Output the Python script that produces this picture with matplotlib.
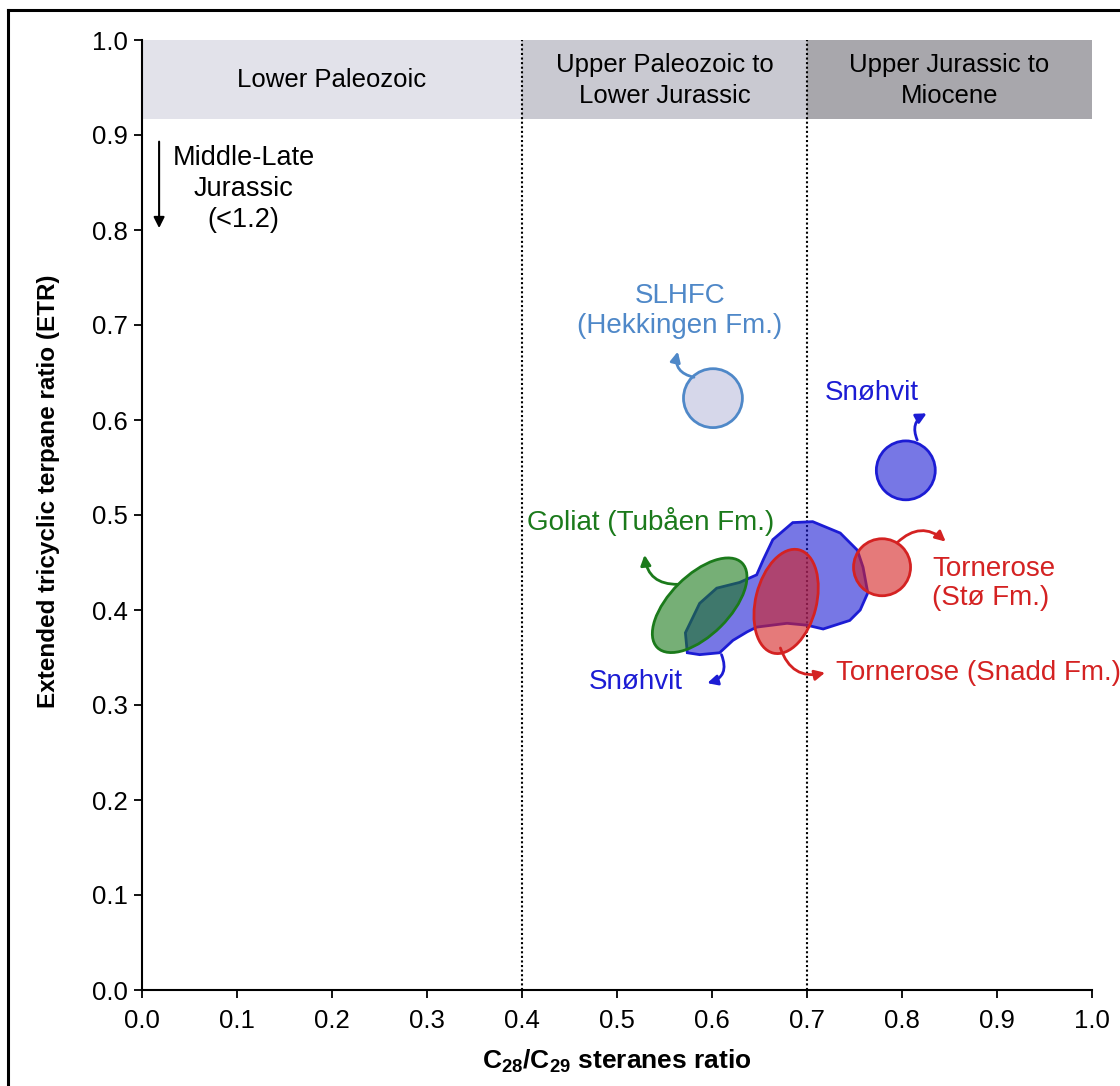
import matplotlib
matplotlib.use("Agg")
import matplotlib.pyplot as plt
from matplotlib.patches import Ellipse, Circle, Polygon, FancyArrowPatch, Rectangle
from matplotlib.lines import Line2D

plt.rcParams['font.family'] = ['Liberation Sans', 'DejaVu Sans']
plt.rcParams['mathtext.fontset'] = 'custom'
plt.rcParams['mathtext.rm'] = 'Liberation Sans'
plt.rcParams['mathtext.bf'] = 'Liberation Sans:bold'

# age bands (x ranges) along the top
band_names = ['Lower Paleozoic', 'Upper Paleozoic to\nLower Jurassic', 'Upper Jurassic to\nMiocene']
band_x = [(0.0, 0.4), (0.4, 0.7), (0.7, 1.0)]
band_colors = ['#e2e2ea', '#c9c9d1', '#a8a7ac']
band_bottom = 0.917
cutoffs = [0.4, 0.7]

# circles: name, centre x, centre y, radius
circle_names = ['SLHFC', 'Snøhvit', 'Tornerose (Stø)']
circle_x = [0.601, 0.804, 0.779]
circle_y = [0.623, 0.547, 0.445]
circle_r = [0.031, 0.031, 0.030]

# ellipses: Goliat (Tubåen Fm.), Tornerose (Snadd Fm.)
ell_x = [0.587, 0.678]
ell_y = [0.405, 0.409]
ell_w = [0.126, 0.112]
ell_h = [0.063, 0.064]
ell_ang = [45, 76]

# Snøhvit field outline
snohvit_x = [0.574, 0.572, 0.587, 0.605, 0.629, 0.647, 0.654, 0.664, 0.685, 0.706,
             0.735, 0.753, 0.759, 0.764, 0.756, 0.745, 0.717, 0.700, 0.679, 0.647,
             0.637, 0.622, 0.608, 0.587]
snohvit_y = [0.355, 0.376, 0.407, 0.423, 0.429, 0.437, 0.453, 0.474, 0.492, 0.493,
             0.481, 0.463, 0.445, 0.418, 0.400, 0.389, 0.380, 0.384, 0.386, 0.382,
             0.377, 0.368, 0.355, 0.353]

BLUE = '#1c1cd4'
RED = '#d42222'
GREEN = '#1b7a1b'
STEEL = '#4f88c8'

fig = plt.figure(figsize=(11.2, 10.86), dpi=100)
ax = fig.add_axes([142/1120, 96/1086, 950/1120, 950/1086])
ax.set_xlim(0, 1.0)
ax.set_ylim(0, 1.0)

# bands
for (x0, x1), c, name in zip(band_x, band_colors, band_names):
    ax.add_patch(Rectangle((x0, band_bottom), x1 - x0, 1.0 - band_bottom,
                           facecolor=c, edgecolor='none', zorder=1))
    ax.text((x0 + x1) / 2, (band_bottom + 1.0) / 2 - 0.001, name, ha='center', va='center',
            fontsize=18.5, linespacing=1.35, zorder=3)

for xc in cutoffs:
    ax.plot([xc, xc], [0, 1.0], color='black', ls=(0, (1, 1.2)), lw=1.5, zorder=2)

# Snøhvit field
ax.add_patch(Polygon(list(zip(snohvit_x, snohvit_y)), closed=True,
                     facecolor=BLUE, alpha=0.6, edgecolor='none', zorder=4))
ax.add_patch(Polygon(list(zip(snohvit_x, snohvit_y)), closed=True,
                     facecolor='none', edgecolor=BLUE, lw=2, zorder=4))

# ellipses
for i, col in enumerate([GREEN, RED]):
    ax.add_patch(Ellipse((ell_x[i], ell_y[i]), ell_w[i], ell_h[i], angle=ell_ang[i],
                         facecolor=col, alpha=0.6, edgecolor='none', zorder=5))
    ax.add_patch(Ellipse((ell_x[i], ell_y[i]), ell_w[i], ell_h[i], angle=ell_ang[i],
                         facecolor='none', edgecolor=col, lw=2, zorder=5))

# circles
ax.add_patch(Circle((circle_x[0], circle_y[0]), circle_r[0], facecolor='#d6d7ea',
                    edgecolor=STEEL, lw=2, zorder=5))
for i, col in [(1, BLUE), (2, RED)]:
    ax.add_patch(Circle((circle_x[i], circle_y[i]), circle_r[i], facecolor=col,
                        alpha=0.6, edgecolor='none', zorder=5))
    ax.add_patch(Circle((circle_x[i], circle_y[i]), circle_r[i], facecolor='none',
                        edgecolor=col, lw=2, zorder=5))

# curved arrows: start, end, rad, colour
arrows = [((0.581, 0.645), (0.564, 0.672), -0.5, STEEL),
          ((0.816, 0.579), (0.826, 0.607), -0.45, BLUE),
          ((0.795, 0.471), (0.846, 0.472), -0.45, RED),
          ((0.672, 0.360), (0.719, 0.334), 0.45, RED),
          ((0.610, 0.353), (0.595, 0.323), -0.55, BLUE),
          ((0.564, 0.427), (0.529, 0.458), -0.45, GREEN)]
for s, e, rad, col in arrows:
    ax.add_patch(FancyArrowPatch(s, e, connectionstyle=f'arc3,rad={rad}',
                                 arrowstyle='-|>', mutation_scale=15, lw=2,
                                 color=col, zorder=6, shrinkA=0, shrinkB=0))

# labels
fs = 20
ax.text(0.566, 0.715, 'SLHFC\n(Hekkingen Fm.)', color=STEEL, ha='center', va='center',
        fontsize=fs, linespacing=1.2)
ax.text(0.768, 0.628, 'Snøhvit', color=BLUE, ha='center', va='center', fontsize=fs)
ax.text(0.535, 0.493, 'Goliat (Tubåen Fm.)', color=GREEN, ha='center', va='center', fontsize=fs)
ax.text(0.832, 0.428, 'Tornerose\n(Stø Fm.)', color=RED, ha='left', va='center',
        fontsize=fs, linespacing=1.15)
ax.text(0.731, 0.334, 'Tornerose (Snadd Fm.)', color=RED, ha='left', va='center', fontsize=fs)
ax.text(0.520, 0.324, 'Snøhvit', color=BLUE, ha='center', va='center', fontsize=fs)

ax.annotate('', xy=(0.018, 0.802), xytext=(0.018, 0.893),
            arrowprops=dict(arrowstyle='-|>', color='black', lw=1.5, mutation_scale=16,
                            shrinkA=0, shrinkB=0))
ax.text(0.107, 0.843, 'Middle-Late\nJurassic\n(<1.2)', ha='center', va='center',
        fontsize=19.5, linespacing=1.25)

# axes styling
ticks = [i / 10 for i in range(11)]
ax.set_xticks(ticks)
ax.set_yticks(ticks)
ax.set_xticklabels([f'{t:.1f}' for t in ticks])
ax.set_yticklabels([f'{t:.1f}' for t in ticks])
ax.tick_params(direction='out', length=6, width=1.3, labelsize=18.5, pad=4)
ax.tick_params(axis='x', pad=8)
for side in ['top', 'right']:
    ax.spines[side].set_visible(False)
for side in ['left', 'bottom']:
    ax.spines[side].set_linewidth(1.5)
ax.set_xlabel(r'$\mathbf{C_{28}/C_{29}}$ steranes ratio', fontsize=19,
              fontweight='bold', labelpad=10)
ax.set_ylabel('Extended tricyclic terpane ratio (ETR)', fontsize=17.5,
              fontweight='bold')
ax.yaxis.set_label_coords(-0.086, 0.525)

# outer frame (top and left edges visible)
fig.add_artist(Line2D([8/1120, 1.0], [1 - 10/1086, 1 - 10/1086], color='black', lw=2.2))
fig.add_artist(Line2D([8/1120, 8/1120], [0.0, 1 - 10/1086], color='black', lw=2.2))

fig.savefig('out.png', dpi=100)
